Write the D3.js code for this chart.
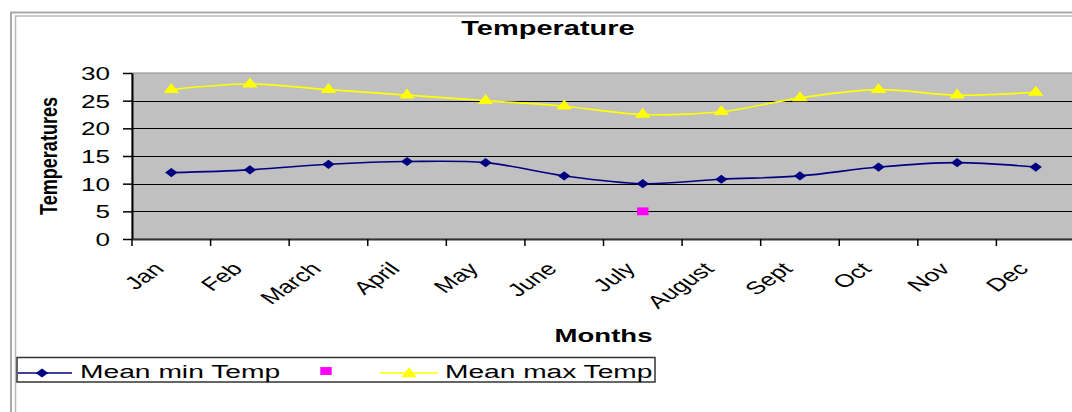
<!DOCTYPE html>
<html>
<head>
<meta charset="utf-8">
<script src="https://cdn.jsdelivr.net/npm/d3@7"></script>
<style>
  html, body { margin: 0; padding: 0; background: #fff; }
  svg { display: block; font-family: "Liberation Sans", Arial, sans-serif; }
</style>
</head>
<body>
<svg id="chart" width="1072" height="412"></svg>
<script>
const months = ["Jan","Feb","March","April","May","June","July","August","Sept","Oct","Nov","Dec"];
const meanMin = [12, 12.5, 13.5, 14, 13.8, 11.4, 10, 10.8, 11.4, 13, 13.8, 13];
const meanMax = [27, 28, 27, 26, 25, 24, 22.5, 23, 25.5, 27, 26, 26.5];
const extraSeries = [null, null, null, null, null, null, 5, null, null, null, null, null];
const yTicks = [0, 5, 10, 15, 20, 25, 30];
const seriesNames = ["Mean min Temp", "", "Mean max Temp"];
const titleText = "Temperature";
const xTitle = "Months";
const yTitle = "Temperatures";

const SX = 1.45; // horizontal stretch of the original rendering
const svg = d3.select("#chart");

// chart frame
svg.append("rect").attr("x", 11).attr("y", 12.5).attr("width", 1100).attr("height", 500)
  .attr("fill", "#fff").attr("stroke", "#a8a8a8").attr("stroke-width", 2);
svg.append("rect").attr("x", 15.5).attr("y", 16).attr("width", 1100).attr("height", 500)
  .attr("fill", "none").attr("stroke", "#b8b8b8").attr("stroke-width", 1.5);

const x = d3.scaleBand().domain(months).range([132, 1075]).padding(0);
const y = d3.scaleLinear().domain([0, 30]).range([239, 73]);
const bw = x.bandwidth();
const cx = m => x(m) + bw / 2;

// plot area
svg.append("rect").attr("x", x.range()[0]).attr("y", y(30))
  .attr("width", x.range()[1] - x.range()[0]).attr("height", y(0) - y(30))
  .attr("fill", "#c0c0c0").attr("stroke", "#8a8a8a").attr("stroke-width", 1);

// gridlines
svg.append("g").selectAll("line").data(yTicks.filter(t => t > 0 && t < 30)).join("line")
  .attr("x1", x.range()[0]).attr("x2", x.range()[1])
  .attr("y1", d => Math.round(y(d)) + 0.5).attr("y2", d => Math.round(y(d)) + 0.5)
  .attr("stroke", "#000").attr("stroke-width", 1);

// y axis
const yAxis = svg.append("g").attr("transform", "translate(132,0)")
  .call(d3.axisLeft(y).tickValues(yTicks).tickSize(9).tickSizeOuter(0).tickPadding(0));
yAxis.select(".domain").attr("stroke", "#000").attr("stroke-width", 2);
yAxis.selectAll(".tick line").attr("stroke", "#000").attr("stroke-width", 1.5);
yAxis.selectAll(".tick text")
  .attr("x", null).attr("dy", "0.36em")
  .attr("transform", "translate(-22,0) scale(" + SX + ",1)")
  .attr("font-size", 18).attr("fill", "#000").attr("font-family", "Liberation Sans, Arial, sans-serif");

// x axis
const xAxis = svg.append("g").attr("transform", "translate(0," + y(0) + ")")
  .call(d3.axisBottom(x).tickSize(0).tickSizeOuter(0).tickFormat(""));
xAxis.select(".domain").attr("stroke", "#333").attr("stroke-width", 2);
svg.append("g").selectAll("line").data(months).join("line")
  .attr("x1", d => x(d)).attr("x2", d => x(d))
  .attr("y1", y(0)).attr("y2", y(0) + 7)
  .attr("stroke", "#000").attr("stroke-width", 1.5);
svg.append("g").selectAll("text").data(months).join("text")
  .attr("transform", d => "translate(" + (cx(d) - 6) + ",270) scale(" + SX + ",1) rotate(-45)")
  .attr("text-anchor", "end").attr("font-size", 18).attr("fill", "#000")
  .text(d => d);

// lines
const line = d3.line().defined(d => d.v != null)
  .x(d => cx(d.m)).y(d => y(d.v)).curve(d3.curveCatmullRom.alpha(0.5));
const minData = months.map((m, i) => ({ m, v: meanMin[i] }));
const maxData = months.map((m, i) => ({ m, v: meanMax[i] }));
const extraData = months.map((m, i) => ({ m, v: extraSeries[i] })).filter(d => d.v != null);

svg.append("path").datum(maxData).attr("d", line).attr("fill", "none")
  .attr("stroke", "#ffff00").attr("stroke-width", 1.6);
svg.append("path").datum(minData).attr("d", line).attr("fill", "none")
  .attr("stroke", "#000080").attr("stroke-width", 1.6);

const diamond = d3.symbol(d3.symbolSquare, 42)();
const tri = d3.symbol(d3.symbolTriangle, 58)();
const sq = d3.symbol(d3.symbolSquare, 62)();

svg.append("g").selectAll("path").data(minData).join("path")
  .attr("d", diamond)
  .attr("transform", d => "translate(" + cx(d.m) + "," + y(d.v) + ") scale(1.35,1) rotate(45)")
  .attr("fill", "#000080");
svg.append("g").selectAll("path").data(maxData).join("path")
  .attr("d", tri)
  .attr("transform", d => "translate(" + cx(d.m) + "," + y(d.v) + ") scale(1.35,1)")
  .attr("fill", "#ffff00");
svg.append("g").selectAll("path").data(extraData).join("path")
  .attr("d", sq)
  .attr("transform", d => "translate(" + cx(d.m) + "," + y(d.v) + ") scale(1.45,1)")
  .attr("fill", "#ff00ff");

// titles
svg.append("text").attr("transform", "translate(548,35) scale(" + SX + ",1)")
  .attr("text-anchor", "middle").attr("font-size", 20).attr("font-weight", "bold")
  .attr("fill", "#000").text(titleText);
svg.append("text").attr("transform", "translate(" + ((x.range()[0] + x.range()[1]) / 2) + ",342) scale(" + SX + ",1)")
  .attr("text-anchor", "middle").attr("font-size", 19).attr("font-weight", "bold")
  .attr("fill", "#000").text(xTitle);
svg.append("text").attr("transform", "translate(57," + ((y(0) + y(30)) / 2) + ") scale(" + SX + ",1) rotate(-90)")
  .attr("text-anchor", "middle").attr("font-size", 16).attr("font-weight", "bold")
  .attr("textLength", 118).attr("lengthAdjust", "spacingAndGlyphs")
  .attr("fill", "#000").text(yTitle);

// legend
const leg = svg.append("g");
leg.append("rect").attr("x", 17).attr("y", 357.5).attr("width", 638).attr("height", 24.5)
  .attr("fill", "#fff").attr("stroke", "#333").attr("stroke-width", 1.5);
const ly = 373;
leg.append("line").attr("x1", 18).attr("x2", 72).attr("y1", ly).attr("y2", ly)
  .attr("stroke", "#000080").attr("stroke-width", 1.6);
leg.append("path").attr("d", diamond).attr("transform", "translate(42," + ly + ") scale(1.35,1) rotate(45)")
  .attr("fill", "#000080");
leg.append("text").attr("transform", "translate(80,378) scale(" + SX + ",1)")
  .attr("font-size", 19).attr("fill", "#000")
  .attr("textLength", 138).attr("lengthAdjust", "spacingAndGlyphs").text(seriesNames[0]);
leg.append("path").attr("d", sq).attr("transform", "translate(326,371) scale(1.45,1)")
  .attr("fill", "#ff00ff");
leg.append("line").attr("x1", 380).attr("x2", 438).attr("y1", ly).attr("y2", ly)
  .attr("stroke", "#ffff00").attr("stroke-width", 1.6);
leg.append("path").attr("d", tri).attr("transform", "translate(409," + (ly + 1) + ") scale(1.35,1)")
  .attr("fill", "#ffff00");
leg.append("text").attr("transform", "translate(445,378) scale(" + SX + ",1)")
  .attr("font-size", 19).attr("fill", "#000")
  .attr("textLength", 143).attr("lengthAdjust", "spacingAndGlyphs").text(seriesNames[2]);
</script>
</body>
</html>
